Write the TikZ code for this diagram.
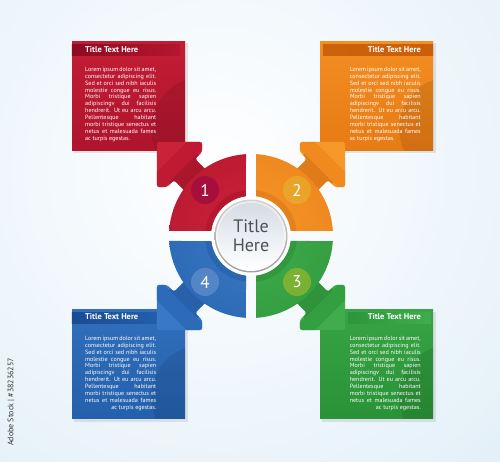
\documentclass[tikz,border=0pt]{standalone}
\usepackage{fontspec}
\setmainfont{PT Sans}
\usetikzlibrary{calc}
\tolerance=10000 \hbadness=10000
\definecolor{bgblue}{HTML}{CCE3F3}
\definecolor{redM}{HTML}{B5162F}
\definecolor{redD}{HTML}{8C0C21}
\definecolor{redL}{HTML}{CC2239}
\definecolor{redN}{HTML}{A00C3E}
\definecolor{orgM}{HTML}{EC7F16}
\definecolor{orgD}{HTML}{C95F0A}
\definecolor{orgL}{HTML}{F7982A}
\definecolor{orgN}{HTML}{E8AA2C}
\definecolor{grnM}{HTML}{2C963A}
\definecolor{grnD}{HTML}{1D7A2A}
\definecolor{grnL}{HTML}{40AD4C}
\definecolor{grnN}{HTML}{8DB62E}
\definecolor{bluM}{HTML}{2663B0}
\definecolor{bluD}{HTML}{1A4C92}
\definecolor{bluL}{HTML}{3878C4}
\definecolor{bluN}{HTML}{5E8BCB}
\definecolor{ttl}{HTML}{4B5157}
\newcommand\lorembody{Lorem ipsum dolor sit amet,\linebreak consectetur adipiscing elit.\linebreak Sed et orci sed nibh iaculis\linebreak molestie congue eu risus.\linebreak Morbi tristique sapien\linebreak adipiscingv dui facilisis\linebreak hendrerit. Ut eu arcu arcu.\linebreak Pellentesque habitant\linebreak morbi tristique senectus et\linebreak netus et malesuada fames\linebreak }
\tikzset{
  body/.style={inner sep=0, text width=71pt, align=justify, font=\fontsize{6.1}{6.85}\selectfont, text=white},
  boxtitle/.style={inner sep=0, font=\bfseries\fontsize{8.4}{10}\selectfont, text=white},
  infobox/.style={rectangle, inner sep=0, minimum width=113pt, minimum height=109pt},
  numc/.style={circle, inner sep=0, minimum size=28pt, text=white, text opacity=1, fill opacity=0.8, font=\fontsize{17}{17}\selectfont},
  boxshadow/.style={fill=black!70, opacity=0.13},
}
\begin{document}
\begin{tikzpicture}[x=1pt,y=1pt]
\useasboundingbox (0,0) rectangle (500,462);
% background
\begin{scope}
  \clip (0,0) rectangle (500,462);
  \shade[inner color=white, outer color=bgblue] (220,290) circle (740);
\end{scope}
\coordinate (C) at (251,226);

% box shadows
\fill[boxshadow] (74,309) rectangle (188,419);
\fill[boxshadow] (322,309) rectangle (436,419);
\fill[boxshadow] (74,40) rectangle (188,150);
\fill[boxshadow] (322,40) rectangle (436,150);

% boxes
\node[infobox, top color=redL!60!redM, bottom color=redM!85!redD] (boxR) at (128.5,366) {};
\node[infobox, top color=orgL!60!orgM, bottom color=orgM!85!orgD] (boxO) at (376.5,366) {};
\node[infobox, top color=bluL!60!bluM, bottom color=bluM!85!bluD] (boxB) at (128.5,98) {};
\node[infobox, top color=grnL!60!grnM, bottom color=grnM!85!grnD] (boxG) at (376.5,98) {};

\foreach \bx in {boxR,boxO,boxB,boxG}{
  \begin{scope}
    \clip (\bx.south west) rectangle (\bx.north east);
    \fill[black, opacity=0.09] ($(\bx.south east)+(18,22)$) circle (52);
  \end{scope}
}

% title bars
\shade[left color=redD, right color=redM] ($(boxR.north west)+(0,-3)$) rectangle ($(boxR.north east)+(-5,-14)$);
\shade[left color=orgD!90!orgM, right color=orgD] ($(boxO.north west)+(3,-3)$) rectangle ($(boxO.north east)+(0,-14)$);
\shade[left color=bluD, right color=bluM] ($(boxB.north west)+(0,-3)$) rectangle ($(boxB.north east)+(-5,-14)$);
\shade[left color=grnM, right color=grnL] ($(boxG.north west)+(28,-3)$) rectangle ($(boxG.north east)+(-2,-14)$);

% titles
\node[boxtitle, anchor=west] (tR) at (85,412) {Title Text Here};
\node[boxtitle, anchor=east] (tO) at (421,412) {Title Text Here};
\node[boxtitle, anchor=west] (tB) at (85,145) {Title Text Here};
\node[boxtitle, anchor=east] (tG) at (421,145) {Title Text Here};

% body texts
\node[body, anchor=north west] (bR) at (85,395) {\lorembody ac turpis egestas.};
\node[body, anchor=north east] (bO) at (421,395) {\lorembody ac turpis egestas.};
\node[body, anchor=north west] (bB) at (85,126) {\lorembody\mbox{}\hfill ac turpis egestas.};
\node[body, anchor=north east] (bG) at (421,126) {\lorembody\mbox{}\hfill ac turpis egestas.};

% arrows
\foreach \ang/\cm/\cl/\cd in {135/redM/redL/redD, 45/orgM/orgL/orgD, -45/grnM/grnL/grnD, -135/bluM/bluL/bluD}{
  \begin{scope}[shift={(C)}, rotate=\ang]
    \fill[\cl, rounded corners=2.5pt] (133,0) -- (101,32) -- (94,25) -- (94,15) -- (55,15) -- (55,-15) -- (94,-15) -- (94,-25) -- (101,-32) -- cycle;
    \begin{scope}
      \clip[rounded corners=2.5pt] (133,0) -- (101,32) -- (94,25) -- (94,15) -- (55,15) -- (55,-15) -- (94,-15) -- (94,-25) -- (101,-32) -- cycle;
      \fill[\cd, opacity=0.5] (50,-20) rectangle (96,20);
      \fill[\cm, opacity=0.6] (96,-40) rectangle (112,40);
    \end{scope}
  \end{scope}
}

% quadrants
\foreach \rot/\cl/\cm/\cd in {0/redL/redM/redD, -90/orgL/orgM/orgD, -180/grnL/grnM/grnD, 90/bluL/bluM/bluD}{
  \begin{scope}[shift={(C)}, rotate=\rot]
    \begin{scope}
      \clip (-5,81.85) arc[start angle=93.5, end angle=176.5, radius=82] -- (-39.69,5) arc[start angle=172.8, end angle=97.2, radius=40] -- cycle;
      \shade[inner color=\cl, outer color=\cm!80!\cd] (0,0) circle (170);
      \fill[\cd, opacity=0.3] (0,0) circle (46);
    \end{scope}
  \end{scope}
}

% number circles
\node[numc, fill=redN] (n1) at ($(C)+(135:65)$) {1};
\node[numc, fill=orgN] (n2) at ($(C)+(45:65)$) {2};
\node[numc, fill=grnN] (n3) at ($(C)+(-45:65)$) {3};
\node[numc, fill=bluN] (n4) at ($(C)+(-135:65)$) {4};

% center
\fill[white] (C) circle (39.5);
\shade[top color=black!18, bottom color=black!38] (C) circle (36.5);
\shade[top color=black!8, bottom color=white] (C) circle (35);
\shade[top color={rgb,255:red,214;green,220;blue,228}, bottom color=white] (C) circle (33);
\node[align=center, inner sep=0, font=\fontsize{18}{19}\selectfont, text=ttl] (title) at (C) {Title\\Here};

% stock id
\node[rotate=90, inner sep=0, font=\fontsize{8}{9}\selectfont, text=black!80] (stock) at (11,60) {Adobe Stock | \#38236257};
\end{tikzpicture}
\end{document}
